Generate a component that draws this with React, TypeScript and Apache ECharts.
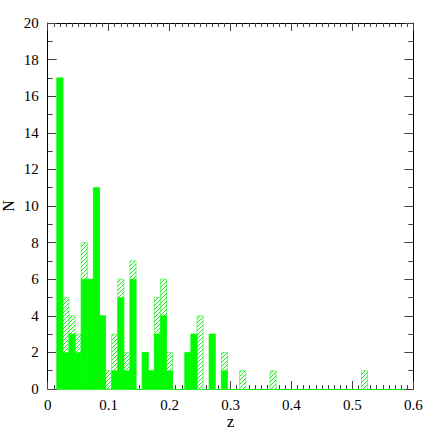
import React, { useEffect, useRef } from "react";
import * as echarts from "echarts";

// Histogram bin centres (z), bin width 0.01
const binCenters = [0.02, 0.03, 0.04, 0.05, 0.06, 0.07, 0.08, 0.09, 0.10, 0.11, 0.12, 0.13, 0.14, 0.16, 0.17, 0.18, 0.19, 0.20, 0.23, 0.24, 0.25, 0.27, 0.29, 0.32, 0.37, 0.52];
// Solid (filled) histogram counts
const filledCounts = [17, 2, 3, 2, 6, 6, 11, 4, 0, 1, 5, 1, 6, 2, 1, 3, 4, 1, 2, 3, 0, 3, 1, 0, 0, 0];
// Total (hatched) histogram counts
const totalCounts = [17, 5, 4, 3, 8, 6, 11, 4, 1, 3, 6, 2, 7, 2, 1, 5, 6, 2, 2, 3, 4, 3, 2, 1, 1, 1];
const binWidth = 0.01;
const xTicks = ["0", "0.1", "0.2", "0.3", "0.4", "0.5", "0.6"];

function hatchLines(xl: number, yt: number, xr: number, yb: number, step: number, color: string) {
  const out: any[] = [];
  const cStart = xl + yt;
  const cEnd = xr + yb;
  const first = Math.ceil(cStart / step) * step;
  for (let c = first; c <= cEnd; c += step) {
    const x1 = Math.max(xl, c - yb);
    const x2 = Math.min(xr, c - yt);
    if (x2 - x1 < 0.3) continue;
    out.push({
      type: "line",
      shape: { x1, y1: c - x1, x2, y2: c - x2 },
      style: { stroke: color, lineWidth: 1 },
      silent: true,
    });
  }
  return out;
}

export default function App() {
  const ref = useRef<HTMLDivElement>(null);
  useEffect(() => {
    if (!ref.current) return;
    const chart = echarts.init(ref.current, undefined, { renderer: "svg" });
    const font = "'Liberation Serif', 'Times New Roman', serif";
    const totalData = binCenters.map((c, i) => [c, totalCounts[i]]);
    const filledData = binCenters.map((c, i) => [c, filledCounts[i]]);

    const makeRender = (kind: "hatch" | "fill") => (params: any, api: any) => {
      const c = api.value(0) as number;
      const v = api.value(1) as number;
      if (!v) return { type: "group", children: [] };
      const p0 = api.coord([c - binWidth / 2, v]);
      const p1 = api.coord([c + binWidth / 2, 0]);
      const xl = p0[0], yt = p0[1], xr = p1[0], yb = p1[1];
      if (kind === "hatch") {
        return {
          type: "group",
          children: [
            { type: "rect", shape: { x: xl, y: yt, width: xr - xl, height: yb - yt }, style: { fill: "#ffffff", stroke: "#7cfa7c", lineWidth: 1 } },
            ...hatchLines(xl, yt, xr, yb, 4, "#22e622"),
          ],
        };
      }
      return {
        type: "group",
        children: [
          { type: "rect", shape: { x: xl, y: yt, width: xr - xl, height: yb - yt }, style: { fill: "#00ff00", stroke: "#00ff00", lineWidth: 0.5 } },
          ...hatchLines(xl, yt, xr, yb, 4, "#0af00a"),
        ],
      };
    };

    const tickStyle = { color: "#444", width: 1 };
    const mkX = (pos: "bottom" | "top") => ({
      type: "value",
      position: pos,
      min: 0,
      max: 0.6,
      interval: 0.1,
      splitLine: { show: false },
      minorSplitLine: { show: false },
      axisLine: { show: true, onZero: false, lineStyle: { color: pos === "bottom" ? "#00ee00" : "#000", width: 1 } },
      axisTick: { show: true, inside: true, length: 8, lineStyle: tickStyle },
      minorTick: { show: true, splitNumber: 10, length: 4, lineStyle: tickStyle },
    });
    const mkY = (pos: "left" | "right") => ({
      type: "value",
      position: pos,
      min: 0,
      max: 20,
      interval: 2,
      splitLine: { show: false },
      minorSplitLine: { show: false },
      axisLine: { show: true, onZero: false, lineStyle: { color: "#000", width: 1 } },
      axisTick: { show: true, inside: true, length: 9, lineStyle: tickStyle },
      minorTick: { show: true, splitNumber: 2, length: 5, lineStyle: tickStyle },
    });

    chart.setOption({
      animation: false,
      backgroundColor: "#ffffff",
      textStyle: { fontFamily: font },
      grid: { left: 47.7, right: 22.7, top: 23, bottom: 47, containLabel: false, outerBoundsMode: "none" },
      xAxis: [
        {
          ...mkX("bottom"),
          name: "z",
          nameLocation: "middle",
          nameGap: 24,
          nameMoveOverlap: false,
          nameTextStyle: { fontFamily: font, fontSize: 17, color: "#000" },
          axisLabel: {
            show: true,
            margin: 8,
            fontFamily: font,
            fontSize: 15,
            color: "#000",
            formatter: (v: number) => xTicks[Math.round(v * 10)] ?? String(v),
          },
        },
        { ...mkX("top"), axisLabel: { show: false } },
      ],
      yAxis: [
        {
          ...mkY("left"),
          name: "N",
          nameLocation: "middle",
          nameGap: 31,
          nameMoveOverlap: false,
          nameTextStyle: { fontFamily: font, fontSize: 16, color: "#000" },
          axisLabel: { show: true, margin: 9, fontFamily: font, fontSize: 15, color: "#000" },
        },
        { ...mkY("right"), axisLabel: { show: false } },
      ],
      series: [
        {
          type: "custom",
          name: "total",
          xAxisIndex: 0,
          yAxisIndex: 0,
          renderItem: makeRender("hatch"),
          data: totalData,
          encode: { x: 0, y: 1 },
          z: 1,
        },
        {
          type: "custom",
          name: "filled",
          xAxisIndex: 0,
          yAxisIndex: 0,
          renderItem: makeRender("fill"),
          data: filledData,
          encode: { x: 0, y: 1 },
          z: 2,
        },
      ],
    });
    return () => chart.dispose();
  }, []);
  return <div ref={ref} style={{ position: "fixed", left: 0, top: 0, width: 436, height: 436 }} />;
}
